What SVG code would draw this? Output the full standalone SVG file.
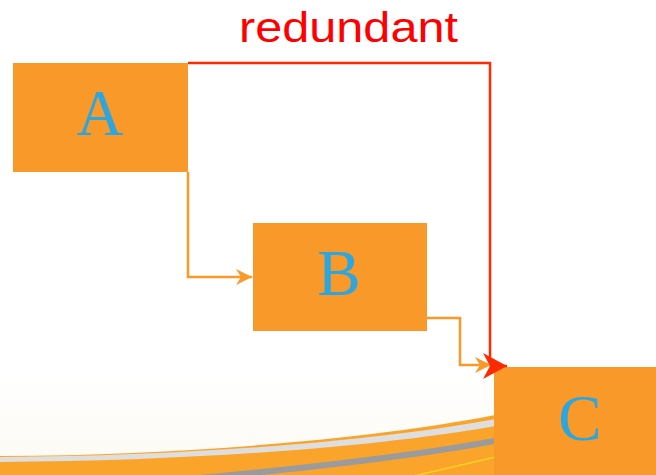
<svg xmlns="http://www.w3.org/2000/svg" width="656" height="475" viewBox="0 0 656 475">
  <style>
    .box { fill: #F8992A; }
    .letter { font-family: "Liberation Serif", "Times New Roman", serif; font-size: 65px; fill: #2DA6DF; text-anchor: middle; }
    .flow { fill: none; stroke: #F8992A; stroke-width: 2.5; }
    .redund { fill: none; stroke: #FF2A00; stroke-width: 2.5; }
    .label { font-family: "Liberation Sans", Arial, sans-serif; font-size: 42px; fill: #FF0000; }
  </style>
  <defs>
    <linearGradient id="cream" x1="0" y1="0" x2="0" y2="1">
      <stop offset="0" stop-color="#FFFFFF"/>
      <stop offset="1" stop-color="#FCFAF3"/>
    </linearGradient>
    <marker id="arrOrange" viewBox="0 0 16 16" refX="16" refY="8" markerWidth="16" markerHeight="16" markerUnits="userSpaceOnUse" orient="auto">
      <path d="M0,0 L16,8 L0,16 L5,8 Z" fill="#F8992A"/>
    </marker>
    <marker id="arrRed" viewBox="0 0 24 26" refX="24" refY="13" markerWidth="24" markerHeight="26" markerUnits="userSpaceOnUse" orient="auto">
      <path d="M0,0 L24,13 L0,26 L7,13 Z" fill="#FF2A00"/>
    </marker>
  </defs>

  <!-- backdrop with lower swoosh -->
  <g id="backdrop">
    <rect x="0" y="0" width="656" height="475" fill="#FFFFFF"/>
    <rect x="0" y="370" width="656" height="105" fill="url(#cream)"/>
    <path d="M0,456 C200,455 380,437 490,416 L656,385 L656,475 L0,475 Z" fill="#FBA42B"/>
    <path d="M0,457 C200,456 380,440 490,420 L656,390 L656,397 L490,427 C380,446 200,461 0,462 Z" fill="#DEDEDE"/>
    <path d="M200,478 C330,466 420,455 500,440" fill="none" stroke="#9B9B9B" stroke-width="6"/>
    <path d="M405,478 C440,470 470,463 500,456" fill="none" stroke="#FFD21E" stroke-width="1.5"/>
  </g>

  <g id="node-A">
    <rect class="box" x="13" y="63" width="175" height="109"/>
    <text class="letter" x="100" y="135">A</text>
  </g>
  <g id="node-B">
    <rect class="box" x="253" y="223" width="174" height="108"/>
    <text class="letter" x="339" y="295">B</text>
  </g>
  <g id="node-C">
    <rect class="box" x="494" y="367" width="162" height="108"/>
    <text class="letter" x="580" y="440">C</text>
  </g>

  <!-- connectors -->
  <g id="connectors">
    <polyline class="flow" points="188,172 188,277 252,277" marker-end="url(#arrOrange)"/>
    <polyline class="flow" points="427,318 460,318 460,365 491,365" marker-end="url(#arrOrange)"/>
    <polyline class="redund" points="188,63 490,63 490,362 496,366 507,366" marker-end="url(#arrRed)"/>
    <text class="label" x="239" y="42" textLength="219" lengthAdjust="spacingAndGlyphs">redundant</text>
  </g>
</svg>
